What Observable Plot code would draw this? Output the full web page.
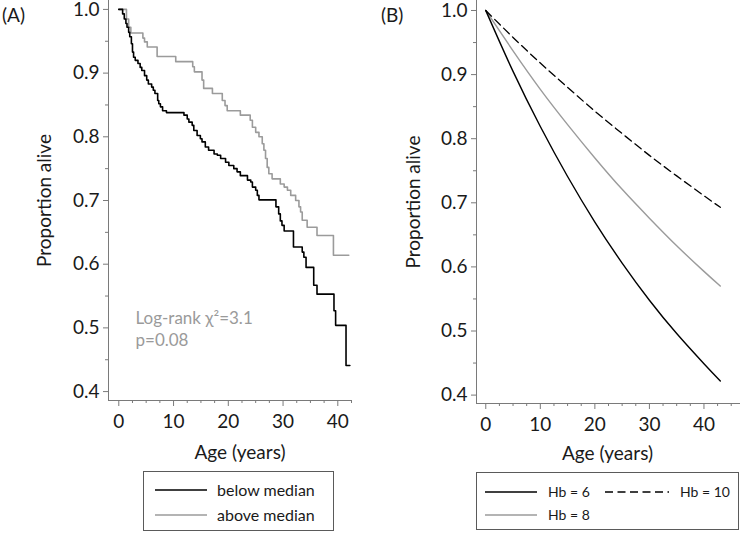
<!DOCTYPE html>
<html><head><meta charset="utf-8">
<script src="https://cdn.jsdelivr.net/npm/d3@7"></script>
<script src="https://cdn.jsdelivr.net/npm/@observablehq/plot@0.6"></script>
<style>
body{margin:0;background:#fff;font-family:Lato,sans-serif;}
#wrap{position:relative;width:740px;height:533px;overflow:hidden;background:#fff}
.panel{position:absolute;top:-12px}
.tag{position:absolute;font-size:19px;top:3px;color:#1a1a1a;font-family:Lato,sans-serif}
.legend{position:absolute;border:1px solid #5a5a5a;box-sizing:border-box;background:#fff}
.legend svg{display:block}
</style></head><body>
<div id="wrap">
  <div id="pa" class="panel" style="left:0"></div>
  <div id="pb" class="panel" style="left:370px"></div>
  <div class="tag" style="left:2px">(A)</div>
  <div class="tag" style="left:381px">(B)</div>
  <div id="legA" class="legend" style="left:143px;top:471px;width:191px;height:60px"></div>
  <div id="legB" class="legend" style="left:476px;top:472px;width:263px;height:58px"></div>
</div>
<script>
// ---------- Data ----------
// Panel A: Kaplan–Meier steps (age at event, survival after event)
const belowMedianAge  = [0,0.7,1.0,1.3,1.5,1.8,2.0,2.3,2.5,2.7,3.0,3.5,3.9,4.2,4.7,5.1,5.4,6.0,6.3,6.6,7.1,7.3,7.6,8.0,8.7,11.9,12.5,12.8,13.4,13.7,14.3,14.9,15.2,15.8,16.4,17.4,18.0,18.6,19.5,20.1,21.0,21.6,22.2,23.5,24.1,24.4,25.0,25.3,25.6,28.7,29.2,29.5,29.8,30.2,31.9,33.5,33.8,34.2,35.6,36.2,39.3,39.6,41.5,42.2];
const belowMedianSurv = [1.0,0.993,0.985,0.978,0.972,0.964,0.957,0.946,0.933,0.925,0.920,0.915,0.909,0.904,0.896,0.889,0.883,0.878,0.873,0.868,0.857,0.852,0.847,0.841,0.838,0.834,0.828,0.823,0.818,0.810,0.802,0.797,0.792,0.784,0.779,0.773,0.771,0.766,0.760,0.755,0.750,0.745,0.739,0.732,0.729,0.721,0.716,0.708,0.701,0.690,0.679,0.668,0.661,0.652,0.627,0.619,0.611,0.595,0.567,0.553,0.527,0.504,0.441,0.441];
const aboveMedianAge  = [0,1.4,1.8,2.2,4.4,4.7,5.2,7.0,10.4,13.5,13.8,15.2,15.5,17.1,18.9,19.4,19.8,22.2,24.0,24.4,25.0,25.6,26.2,26.5,26.8,27.1,27.4,28.0,29.5,30.2,30.8,31.4,32.3,32.9,33.2,33.5,34.4,36.2,39.2,42.0];
const aboveMedianSurv = [1.0,0.985,0.972,0.963,0.955,0.949,0.941,0.926,0.918,0.910,0.902,0.889,0.876,0.868,0.857,0.849,0.841,0.834,0.826,0.815,0.807,0.800,0.789,0.779,0.766,0.752,0.742,0.734,0.726,0.721,0.716,0.708,0.700,0.690,0.682,0.669,0.658,0.645,0.614,0.614];
const annotationLines = ["Log-rank χ²=3.1", "p=0.08"];
const legendALabels = ["below median", "above median"];

// Panel B: model curves by haemoglobin
const hbAge  = [0,5,10,15,20,25,30,35,40,43];
const hb6    = [1.0,0.905,0.819,0.741,0.670,0.606,0.548,0.496,0.449,0.422];
const hb8    = [1.0,0.937,0.877,0.822,0.770,0.721,0.676,0.633,0.593,0.570];
const hb10   = [1.0,0.958,0.918,0.880,0.843,0.808,0.774,0.742,0.711,0.693];
const legendBLabels = ["Hb = 6", "Hb = 8", "Hb = 10"];

// Axis ticks
const yMajor = [0.4,0.5,0.6,0.7,0.8,0.9,1.0];
const yMinor = [0.45,0.55,0.65,0.75,0.85,0.95];
const xMajor = [0,10,20,30,40];
const xMinorA = [2.5,5,7.5,12.5,15,17.5,22.5,25,27.5,32.5,35,37.5,42.5];
const xMinorB = [2.5,5,7.5,12.5,15,17.5,22.5,25,27.5,32.5,35,37.5,42.5,45];
const xLabel = "Age (years)";
const yLabel = "Proportion alive";

// ---------- Styling ----------
const BLACK = "#000", GRAY = "#9b9b9b", AXIS = "#7a7a7a", TXT = "#1a1a1a";
const FONT = "Lato, sans-serif";
const TOP = 12; // extra room so the top tick label is not clipped

const belowData = belowMedianAge.map((t,i)=>({t, s: belowMedianSurv[i]}));
const aboveData = aboveMedianAge.map((t,i)=>({t, s: aboveMedianSurv[i]}));
const hbData = [
  {key: legendBLabels[0], vals: hb6},
  {key: legendBLabels[1], vals: hb8},
  {key: legendBLabels[2], vals: hb10}
].flatMap(d => hbAge.map((t,i)=>({t, s: d.vals[i], hb: d.key})));

function axes(xDom, yDom, xMinor) {
  return [
    Plot.ruleX([xDom[0]], {stroke: AXIS, strokeWidth: 1}),
    Plot.ruleY([yDom[0]], {stroke: AXIS, strokeWidth: 1}),
    Plot.axisY(yMajor, {anchor:"left", tickSize:5, tickPadding:4, tickFormat:d3.format(".1f"), stroke:AXIS, fill:TXT, label:null, fontSize:19}),
    Plot.axisY(yMinor, {anchor:"left", tickSize:3, tickFormat:()=>"", stroke:AXIS, label:null}),
    Plot.axisX(xMajor, {anchor:"bottom", tickSize:6, tickPadding:8, tickFormat:d3.format("d"), stroke:AXIS, fill:TXT, label:null, fontSize:19}),
    Plot.axisX(xMinor, {anchor:"bottom", tickSize:3, tickFormat:()=>"", stroke:AXIS, label:null})
  ];
}

// ---------- Panel A ----------
const xDomA = [-1.88, 42.5], yDomA = [0.386, 1.014];
const plotA = Plot.plot({
  width: 370, height: 470 + TOP,
  marginLeft: 108, marginRight: 19, marginTop: TOP, marginBottom: 70,
  x: {domain: xDomA}, y: {domain: yDomA},
  style: {fontFamily: FONT, background: "#fff", color: TXT},
  marks: [
    ...axes(xDomA, yDomA, xMinorA),
    Plot.line(aboveData, {x:"t", y:"s", curve:"step-after", stroke: GRAY, strokeWidth: 1.6}),
    Plot.line(belowData, {x:"t", y:"s", curve:"step-after", stroke: BLACK, strokeWidth: 1.6}),
    Plot.text([annotationLines.join("\n")], {frameAnchor:"left", dx: 27, dy: 127, textAnchor:"start", lineAnchor:"middle", lineHeight: 1.3, fill: "#9a9a9a", fontSize: 17}),
    Plot.text([yLabel], {frameAnchor:"left", dx:-64, rotate:-90, textAnchor:"middle", lineAnchor:"middle", fill: TXT, fontSize: 19}),
    Plot.text([xLabel], {frameAnchor:"bottom", dx: 10, dy: 52, textAnchor:"middle", lineAnchor:"middle", fill: TXT, fontSize: 19})
  ]
});
document.getElementById("pa").appendChild(plotA);

// ---------- Panel B ----------
const xDomB = [-1.7, 46.7], yDomB = [0.3869, 1.0156];
const plotB = Plot.plot({
  width: 370, height: 470 + TOP,
  marginLeft: 106, marginRight: 0, marginTop: TOP, marginBottom: 67,
  x: {domain: xDomB}, y: {domain: yDomB},
  style: {fontFamily: FONT, background: "#fff", color: TXT},
  marks: [
    ...axes(xDomB, yDomB, xMinorB),
    Plot.line(hbData.filter(d=>d.hb===legendBLabels[1]), {x:"t", y:"s", curve:"natural", stroke: GRAY, strokeWidth: 1.4}),
    Plot.line(hbData.filter(d=>d.hb===legendBLabels[0]), {x:"t", y:"s", curve:"natural", stroke: BLACK, strokeWidth: 1.4}),
    Plot.line(hbData.filter(d=>d.hb===legendBLabels[2]), {x:"t", y:"s", curve:"natural", stroke: BLACK, strokeWidth: 1.3, strokeDasharray: "8,4.5"}),
    Plot.text([yLabel], {frameAnchor:"left", dx:-63, rotate:-90, textAnchor:"middle", lineAnchor:"middle", fill: TXT, fontSize: 19}),
    Plot.text([xLabel], {frameAnchor:"bottom", dx: -1, dy: 50, textAnchor:"middle", lineAnchor:"middle", fill: TXT, fontSize: 19})
  ]
});
document.getElementById("pb").appendChild(plotB);

// ---------- Legends ----------
function legend(id, w, h, items, fontSize) {
  const svg = d3.select("#" + id).append("svg").attr("width", w).attr("height", h);
  for (const it of items) {
    svg.append("line").attr("x1", it.x1).attr("x2", it.x2).attr("y1", it.y).attr("y2", it.y)
      .attr("stroke", it.stroke).attr("stroke-width", 1.5)
      .attr("stroke-dasharray", it.dash || null);
    svg.append("text").attr("x", it.tx).attr("y", it.y).attr("dy", "0.35em")
      .attr("font-family", FONT).attr("font-size", fontSize).attr("fill", TXT).text(it.label);
  }
}
legend("legA", 189, 58, [
  {x1:11, x2:63, y:18, tx:73, label: legendALabels[0], stroke: BLACK},
  {x1:11, x2:63, y:43, tx:73, label: legendALabels[1], stroke: GRAY}
], 16);
legend("legB", 261, 56, [
  {x1:8, x2:60, y:19, tx:71, label: legendBLabels[0], stroke: BLACK},
  {x1:128, x2:192, y:19, tx:203, label: legendBLabels[2], stroke: BLACK, dash: "8,4.5"},
  {x1:8, x2:60, y:42, tx:71, label: legendBLabels[1], stroke: GRAY}
], 14);
</script>
</body></html>
